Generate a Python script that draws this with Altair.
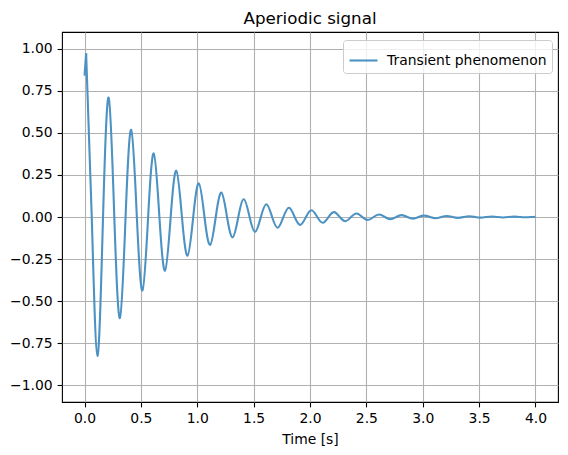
import altair as alt
import pandas as pd

TITLE = "Aperiodic signal"
X_LABEL = "Time [s]"
SERIES = "Transient phenomenon"
FONT = "DejaVu Sans"

# Values: start point, then every extremum and zero crossing
time_s = [
    0.000, 0.014, 0.064, 0.114, 0.164, 0.214, 0.264, 0.314, 0.364, 0.414,
    0.464, 0.514, 0.564, 0.614, 0.664, 0.714, 0.764, 0.814, 0.864, 0.914,
    0.964, 1.014, 1.064, 1.114, 1.164, 1.214, 1.264, 1.314, 1.364, 1.414,
    1.464, 1.514, 1.564, 1.614, 1.664, 1.714, 1.764, 1.814, 1.864, 1.914,
    1.964, 2.014, 2.064, 2.114, 2.164, 2.214, 2.264, 2.314, 2.364, 2.414,
    2.464, 2.514, 2.564, 2.614, 2.664, 2.714, 2.764, 2.814, 2.864, 2.914,
    2.964, 3.014, 3.064, 3.114, 3.164, 3.214, 3.264, 3.314, 3.364, 3.414,
    3.464, 3.514, 3.564, 3.614, 3.664, 3.714, 3.764, 3.814, 3.864, 3.914,
    3.964, 4.000,
]
signal = [
    0.841, 0.973, 0.0, -0.826, 0.0, 0.710, 0.0, -0.601, 0.0, 0.518,
    0.0, -0.437, 0.0, 0.378, 0.0, -0.319, 0.0, 0.275, 0.0, -0.230,
    0.0, 0.200, 0.0, -0.166, 0.0, 0.145, 0.0, -0.121, 0.0, 0.105,
    0.0, -0.088, 0.0, 0.076, 0.0, -0.064, 0.0, 0.055, 0.0, -0.047,
    0.0, 0.040, 0.0, -0.034, 0.0, 0.029, 0.0, -0.025, 0.0, 0.021,
    0.0, -0.018, 0.0, 0.015, 0.0, -0.013, 0.0, 0.011, 0.0, -0.0095,
    0.0, 0.008, 0.0, -0.007, 0.0, 0.006, 0.0, -0.005, 0.0, 0.0043,
    0.0, -0.0036, 0.0, 0.0031, 0.0, -0.0026, 0.0, 0.0022, 0.0, -0.0019,
    0.0, 0.0015,
]
x_ticks = [0.0, 0.5, 1.0, 1.5, 2.0, 2.5, 3.0, 3.5, 4.0]
y_ticks = [-1.0, -0.75, -0.5, -0.25, 0.0, 0.25, 0.5, 0.75, 1.0]

# the short rise before the first peak is its own piece so the spline stays even-spaced
start = pd.DataFrame({"t": time_s[:2], "v": signal[:2], "part": "start"})
main = pd.DataFrame({"t": time_s[1:], "v": signal[1:], "part": "main"})
df = pd.concat([start, main], ignore_index=True)
df["series"] = SERIES

chart = (
    alt.Chart(df)
    .mark_line(interpolate="natural", strokeWidth=2.1, clip=True)
    .encode(
        x=alt.X(
            "t:Q",
            scale=alt.Scale(domain=[-0.2, 4.2], nice=False, zero=False),
            axis=alt.Axis(values=x_ticks, format=".1f", title=X_LABEL),
        ),
        y=alt.Y(
            "v:Q",
            scale=alt.Scale(domain=[-1.1, 1.1], nice=False, zero=False),
            axis=alt.Axis(values=y_ticks, format=".2f", title=None),
        ),
        color=alt.Color(
            "series:N",
            scale=alt.Scale(domain=[SERIES], range=["#4c92c3"]),
            legend=alt.Legend(
                title=None,
                orient="none",
                legendX=281,
                legendY=8,
                symbolType="stroke",
                symbolSize=784,
                symbolStrokeWidth=2.1,
                labelFont=FONT,
                labelFontSize=13.9,
                labelColor="black",
                labelOffset=8,
                fillColor="rgba(255,255,255,0.8)",
                strokeColor="#cccccc",
                cornerRadius=3,
                padding=5,
            ),
        ),
        detail="part:N",
    )
    .properties(
        width=496,
        height=370,
        title=alt.TitleParams(
            TITLE,
            font=FONT,
            fontSize=16.7,
            fontWeight="normal",
            color="black",
            anchor="middle",
            offset=4,
        ),
        autosize=alt.AutoSizeParams(type="none"),
        padding={"left": 54, "top": 24, "right": 2, "bottom": 50},
    )
    .configure_view(stroke="black", strokeWidth=1.1)
    .configure_axis(
        domain=False,
        grid=True,
        gridColor="#b0b0b0",
        gridWidth=1.1,
        tickColor="black",
        tickWidth=1.1,
        tickSize=4.9,
        labelFont=FONT,
        labelFontSize=13.9,
        labelColor="black",
        labelPadding=4.9,
        titleFont=FONT,
        titleFontSize=13.9,
        titleFontWeight="normal",
        titleColor="black",
        titlePadding=7,
    )
)

chart.save("out.html", embed_options={"renderer": "svg", "actions": False})
